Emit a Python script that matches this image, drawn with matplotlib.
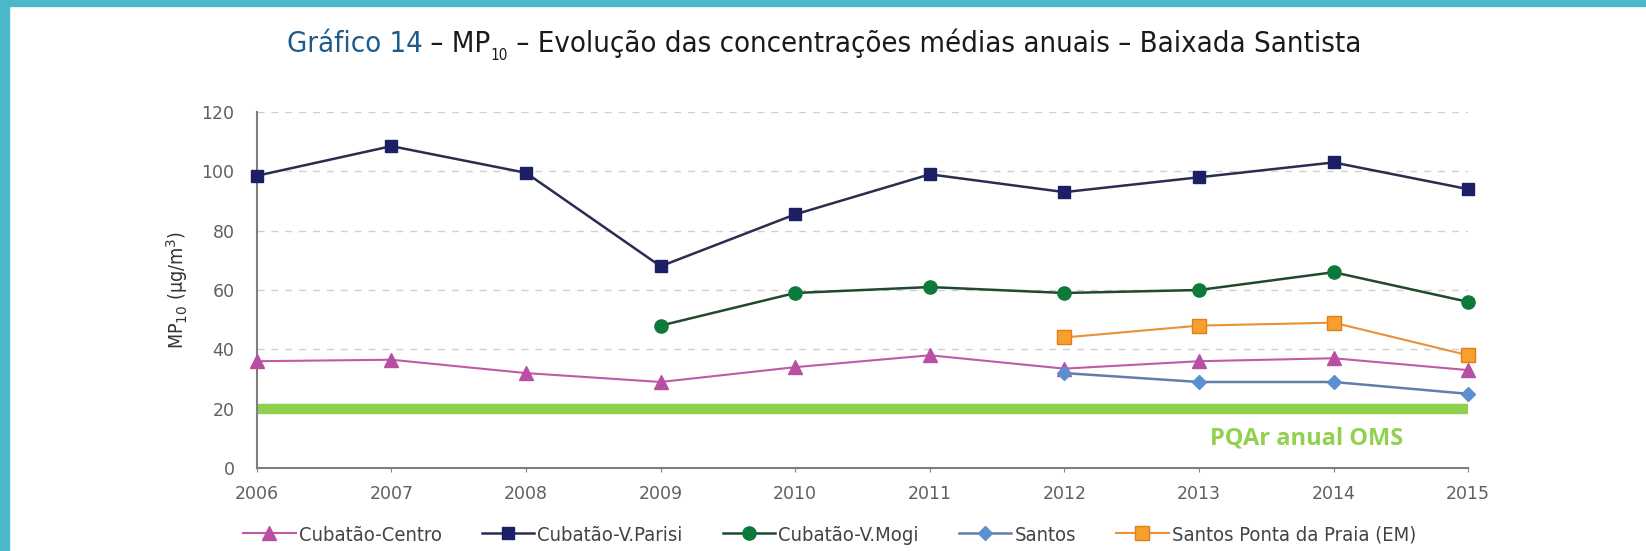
import numpy as np
import matplotlib
matplotlib.use('Agg')
import matplotlib.pyplot as plt
from matplotlib.patches import Rectangle

years = [2006, 2007, 2008, 2009, 2010, 2011, 2012, 2013, 2014, 2015]

centro = [36, 36.5, 32, 29, 34, 38, 33.5, 36, 37, 33]
parisi = [98.5, 108.5, 99.5, 68, 85.5, 99, 93, 98, 103, 94]
mogi_years = [2009, 2010, 2011, 2012, 2013, 2014, 2015]
mogi = [48, 59, 61, 59, 60, 66, 56]
santos_years = [2012, 2013, 2014, 2015]
santos = [32, 29, 29, 25]
ponta = [44, 48, 49, 38]

pqar_oms = 20

fig = plt.figure(figsize=(16.46, 5.51), dpi=100)
ax = fig.add_axes([0.156, 0.1506, 0.736, 0.6461])

# frame around the figure (top and left bands)
fig.patches.append(Rectangle((0, 1 - 6 / 551), 1, 6 / 551, transform=fig.transFigure,
                             color='#4ab8c9', zorder=-1))
fig.patches.append(Rectangle((0, 0), 9 / 1646, 1, transform=fig.transFigure,
                             color='#4ab8c9', zorder=-1))

ax.plot(years, [pqar_oms] * len(years), color='#8fd14f', lw=7.5, solid_capstyle='butt', zorder=2)
ax.text(2013.8, 9.8, 'PQAr anual OMS', color='#92d050', fontsize=17, fontweight='bold',
        family='Open Sans', ha='center', va='center')

style = dict(clip_on=False, zorder=3)
ax.plot(years, centro, color='#c05aa8', lw=1.5, marker='^', ms=9.5, mfc='#b94fa3', mec='#b94fa3',
        label='Cubatão-Centro', **style)
ax.plot(years, parisi, color='#2a2d4e', lw=1.8, marker='s', ms=9, mfc='#1c1f66', mec='#1c1f66',
        label='Cubatão-V.Parisi', **style)
ax.plot(mogi_years, mogi, color='#1f4a2e', lw=1.8, marker='o', ms=9.5, mfc='#0c7a3a', mec='#0c7a3a',
        label='Cubatão-V.Mogi', **style)
ax.plot(santos_years, santos, color='#5f7fa8', lw=1.8, marker='D', ms=7.5, mfc='#5a8fd0', mec='#5a8fd0',
        label='Santos', **style)
ax.plot(santos_years, ponta, color='#e8913a', lw=1.5, marker='s', ms=9.5, mfc='#f7a030', mec='#e47d14',
        label='Santos Ponta da Praia (EM)', **style)

ax.set_xlim(2006, 2015)
ax.set_ylim(0, 120)
ax.set_xticks(years)
ax.set_yticks(range(0, 121, 20))
for y in range(20, 121, 20):
    ax.axhline(y, color='#d0d0d0', lw=1, ls=(0, (5, 5)), zorder=1)

for s in ['top', 'right']:
    ax.spines[s].set_visible(False)
for s in ['left', 'bottom']:
    ax.spines[s].set_color('#7f7f7f')
    ax.spines[s].set_linewidth(1.5)
ax.tick_params(axis='x', length=3, color='#7f7f7f', pad=9, labelsize=12.5, labelcolor='#606060')
ax.tick_params(axis='y', length=0, pad=16, labelsize=12.5, labelcolor='#606060')

ax.set_ylabel('MP$_{10}$ (µg/m$^3$)', fontsize=14, color='#333333', labelpad=8,
              fontstretch='condensed')

leg = fig.legend(loc='center', bbox_to_anchor=(0.504, 0.029), ncol=5, frameon=False,
                 fontsize=14.5, handlelength=2.6, columnspacing=2.0, handletextpad=0.15)
for t in leg.get_texts():
    t.set_color('#444444')
    t.set_fontstretch('condensed')

# title built from pieces so the first part can be coloured
parts = [('Gráfico 14', '#1d5c8a', 21, 0), (' – MP', '#1a1a1a', 21, 0),
         ('10', '#1a1a1a', 11, -8), (' – Evolução das concentrações médias anuais – Baixada Santista',
                                       '#1a1a1a', 21, 0)]
renderer = fig.canvas.get_renderer()
texts = []
x = 0
for s, c, size, dy in parts:
    t = fig.text(0, 0.905, s, color=c, fontsize=size, fontstretch='condensed',
                 ha='left', va='baseline')
    w = t.get_window_extent(renderer).width
    texts.append((t, x, dy))
    x += w
x0 = 0.5006 * fig.bbox.width - x / 2
for t, off, dy in texts:
    t.set_x((x0 + off) / fig.bbox.width)
    t.set_y(0.905 + dy / fig.bbox.height)

fig.savefig('out.png', dpi=100)
